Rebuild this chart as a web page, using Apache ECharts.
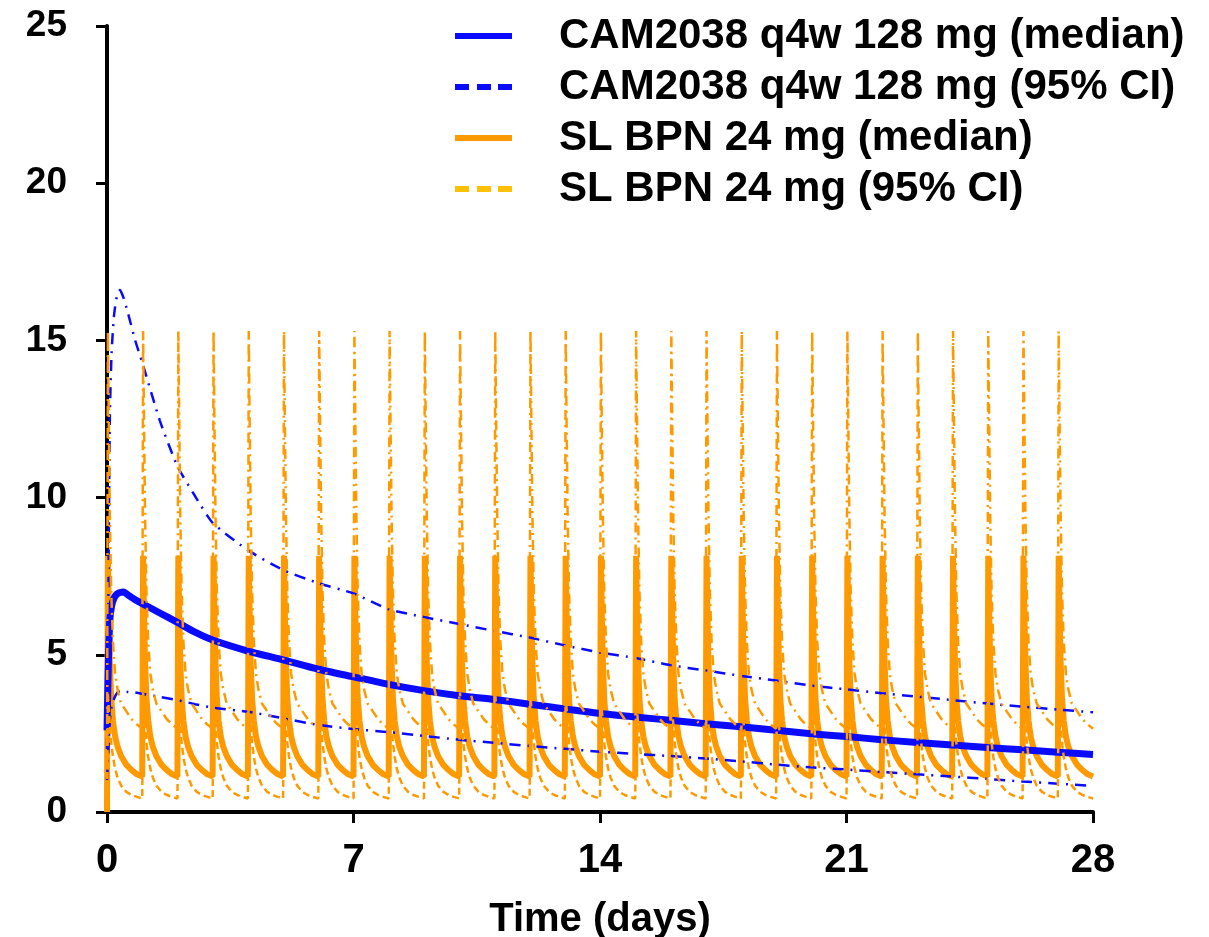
<!DOCTYPE html>
<html>
<head>
<meta charset="utf-8">
<script src="https://cdn.jsdelivr.net/npm/echarts@6/dist/echarts.min.js"></script>
<style>
html,body{margin:0;padding:0;background:#fff;}
#chart{width:1209px;height:937px;}
</style>
</head>
<body>
<div id="chart"></div>
<script>
// ---- Data ----
const xTickLabels = [0, 7, 14, 21, 28];
const yTickLabels = [0, 5, 10, 15, 20, 25];

const seriesNames = [
  'CAM2038 q4w 128 mg (median)',
  'CAM2038 q4w 128 mg (95% CI)',
  'SL BPN 24 mg (median)',
  'SL BPN 24 mg (95% CI)'
];

// CAM2038 (time in days)
const camTime   = [0, 0.04, 0.08, 0.13, 0.2, 0.28, 0.37, 0.47, 0.6, 0.8, 1, 1.5, 2, 2.5, 3, 4, 5, 6, 7, 8, 9, 10, 11, 12, 13, 14, 15, 16, 17, 18, 19, 20, 21, 22, 23, 24, 25, 26, 27, 28];
const camMedian = [2.6, 4.8, 6.1, 6.55, 6.8, 6.93, 6.98, 7.0, 6.9, 6.75, 6.63, 6.33, 6.03, 5.72, 5.47, 5.12, 4.84, 4.54, 4.3, 4.06, 3.86, 3.7, 3.58, 3.43, 3.28, 3.13, 3.02, 2.92, 2.81, 2.71, 2.6, 2.49, 2.4, 2.3, 2.21, 2.13, 2.05, 1.98, 1.9, 1.83];
const camUpper  = [2.0, 7.0, 12.5, 14.6, 15.8, 16.4, 16.6, 16.35, 15.85, 15.0, 14.3, 12.45, 11.0, 10.05, 9.2, 8.33, 7.7, 7.28, 6.95, 6.45, 6.2, 5.98, 5.76, 5.55, 5.3, 5.07, 4.9, 4.67, 4.5, 4.33, 4.18, 4.02, 3.9, 3.78, 3.67, 3.56, 3.45, 3.35, 3.26, 3.17];
const camLower  = [1.0, 2.0, 2.9, 3.35, 3.6, 3.78, 3.85, 3.84, 3.82, 3.8, 3.76, 3.66, 3.56, 3.43, 3.32, 3.19, 2.98, 2.77, 2.64, 2.54, 2.42, 2.3, 2.2, 2.1, 2.01, 1.92, 1.85, 1.78, 1.7, 1.61, 1.51, 1.42, 1.35, 1.27, 1.2, 1.13, 1.05, 0.97, 0.9, 0.83];

// SL BPN 24 mg: once-daily doses, one dosing-interval profile
const blDoseDays = [0, 1, 2, 3, 4, 5, 6, 7, 8, 9, 10, 11, 12, 13, 14, 15, 16, 17, 18, 19, 20, 21, 22, 23, 24, 25, 26, 27];
const blOffsets  = [0, 0.025, 0.05, 0.08, 0.12, 0.17, 0.23, 0.3, 0.4, 0.55, 0.7, 0.85, 1.0];
const blMedian   = [1.13, 8.15, 6.4, 4.8, 3.6, 2.9, 2.4, 2.08, 1.78, 1.5, 1.33, 1.2, 1.13];
const blUpper    = [2.65, 15.3, 12.5, 9.5, 7.0, 5.4, 4.4, 3.9, 3.45, 3.2, 2.95, 2.78, 2.65];
const blLower    = [0.43, 3.8, 3.3, 2.8, 2.2, 1.75, 1.38, 1.1, 0.84, 0.64, 0.54, 0.48, 0.43];
const blPreDose  = 0;

// ---- Build series data ----
function pairs(xs, ys) { return xs.map((x, i) => [x, ys[i]]); }
function dosing(profile) {
  const out = [];
  blDoseDays.forEach((d, k) => {
    for (let i = 0; i < blOffsets.length - 1; i++) {
      const v = (k === 0 && i === 0) ? blPreDose : profile[i];
      out.push([d + blOffsets[i], v]);
    }
  });
  const last = blDoseDays[blDoseDays.length - 1];
  out.push([last + blOffsets[blOffsets.length - 1], profile[profile.length - 1]]);
  return out;
}

const BLUE = '#0a0aff';
const ORANGE = '#ff9900';
const FONT = 'Liberation Sans';
const SOLID_ICON = 'path://M0,0H57V6H0Z';
const DASH_ICON = 'path://M0,0H14V6H0Z M22,0H36V6H22Z M43,0H57V6H43Z';

const chart = echarts.init(document.getElementById('chart'), null, {renderer: 'canvas'});
chart.setOption({
  animation: false,
  backgroundColor: '#ffffff',
  grid: {left: 107, right: 116, top: 26, bottom: 125, containLabel: false, outerBoundsMode: 'none'},
  legend: {
    orient: 'vertical',
    left: 450,
    top: 9,
    itemWidth: 57,
    itemHeight: 6,
    itemGap: 7,
    textStyle: {fontFamily: FONT, fontWeight: 'bold', fontSize: 42, color: '#000', lineHeight: 44, padding: [0, 0, 0, 42]},
    data: [
      {name: seriesNames[0], icon: SOLID_ICON, itemStyle: {color: BLUE}},
      {name: seriesNames[1], icon: DASH_ICON, itemStyle: {color: BLUE}},
      {name: seriesNames[2], icon: SOLID_ICON, itemStyle: {color: ORANGE}},
      {name: seriesNames[3], icon: DASH_ICON, itemStyle: {color: '#ffc000'}}
    ]
  },
  xAxis: {
    type: 'value', min: 0, max: 28, interval: 7,
    name: 'Time (days)', nameLocation: 'middle', nameGap: 88,
    nameTextStyle: {fontFamily: FONT, fontWeight: 'bold', fontSize: 40, color: '#000'},
    axisLine: {lineStyle: {color: '#000', width: 4}},
    axisTick: {show: true, inside: false, length: 11, lineStyle: {color: '#000', width: 3}},
    axisLabel: {fontFamily: FONT, fontWeight: 'bold', fontSize: 40, color: '#000', margin: 29,
      formatter: v => xTickLabels.includes(v) ? String(v) : ''},
    splitLine: {show: false}
  },
  yAxis: {
    type: 'value', min: 0, max: 25, interval: 5,
    axisLine: {show: true, lineStyle: {color: '#000', width: 4}},
    axisTick: {show: true, inside: false, length: 11, lineStyle: {color: '#000', width: 3}},
    axisLabel: {fontFamily: FONT, fontWeight: 'bold', fontSize: 37, color: '#000', margin: 40,
      formatter: v => yTickLabels.includes(v) ? String(v) : ''},
    splitLine: {show: false}
  },
  series: [
    {name: seriesNames[2], type: 'line', symbol: 'none', z: 2, data: dosing(blMedian),
      lineStyle: {color: ORANGE, width: 6}, itemStyle: {color: ORANGE}},
    {name: seriesNames[0], type: 'line', symbol: 'none', z: 3, data: pairs(camTime, camMedian), smooth: 0.2,
      lineStyle: {color: BLUE, width: 7}, itemStyle: {color: BLUE}},
    {name: seriesNames[1], type: 'line', symbol: 'none', z: 4, data: pairs(camTime, camUpper), smooth: 0.2,
      lineStyle: {color: BLUE, width: 2.5, type: [11, 7, 2, 7]}, itemStyle: {color: BLUE}},
    {name: seriesNames[1], type: 'line', symbol: 'none', z: 4, data: pairs(camTime, camLower), smooth: 0.2,
      lineStyle: {color: BLUE, width: 2.5, type: [11, 7, 2, 7]}, itemStyle: {color: BLUE}},
    {name: seriesNames[3], type: 'line', symbol: 'none', z: 5, data: dosing(blUpper),
      lineStyle: {color: ORANGE, width: 2.5, type: [10, 5, 2, 5]}, itemStyle: {color: ORANGE}},
    {name: seriesNames[3], type: 'line', symbol: 'none', z: 5, data: dosing(blLower),
      lineStyle: {color: ORANGE, width: 2.5, type: [7, 4]}, itemStyle: {color: ORANGE}}
  ]
});
</script>
</body>
</html>
